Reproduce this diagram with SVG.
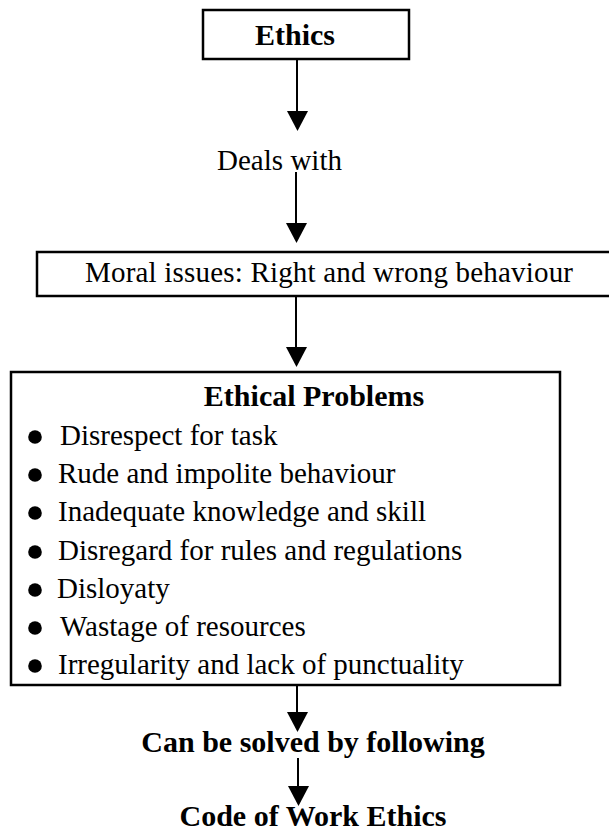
<svg xmlns="http://www.w3.org/2000/svg" width="609" height="833" viewBox="0 0 609 833">
<style>
.box{fill:#fff;stroke:#000;stroke-width:2.5}
.t{font-family:"Liberation Serif","Times New Roman",serif;font-size:29px;fill:#000}
.b{font-family:"Liberation Serif","Times New Roman",serif;font-size:30px;font-weight:bold;fill:#000}
.ln{stroke:#000;stroke-width:2;fill:none}
.hd{fill:#000}
</style>
<rect width="609" height="833" fill="#fff"/>
<g id="connectors">
<line class="ln" x1="297" y1="59" x2="297" y2="113"/>
<polygon class="hd" points="287,111 308,111 297.5,131"/>
<line class="ln" x1="296" y1="172" x2="296" y2="225"/>
<polygon class="hd" points="286,223 307,223 296.5,243"/>
<line class="ln" x1="296" y1="296" x2="296" y2="349"/>
<polygon class="hd" points="286,347 307,347 296.5,367"/>
<line class="ln" x1="297" y1="685" x2="297" y2="714"/>
<polygon class="hd" points="287,712 308,712 297.5,732"/>
<line class="ln" x1="298" y1="758" x2="298" y2="788"/>
<polygon class="hd" points="288,786 309,786 298.5,806"/>
</g>
<g id="ethics">
<rect class="box" x="203" y="10" width="206" height="49"/>
<text class="b" x="295" y="45" text-anchor="middle">Ethics</text>
</g>
<g id="deals-with">
<text class="t" x="217" y="170" textLength="125">Deals with</text>
</g>
<g id="moral-issues">
<rect class="box" x="37" y="252" width="580" height="44"/>
<text class="t" x="85" y="282" textLength="488">Moral issues: Right and wrong behaviour</text>
</g>
<g id="ethical-problems">
<rect class="box" x="11" y="372" width="549" height="313"/>
<text class="b" x="314" y="406" text-anchor="middle">Ethical Problems</text>
<g class="hd">
<circle cx="35" cy="437" r="6.8"/>
<circle cx="35" cy="475" r="6.8"/>
<circle cx="35" cy="513" r="6.8"/>
<circle cx="35" cy="552" r="6.8"/>
<circle cx="35" cy="590" r="6.8"/>
<circle cx="35" cy="628" r="6.8"/>
<circle cx="35" cy="666" r="6.8"/>
</g>
<text class="t" x="60" y="445">Disrespect for task</text>
<text class="t" x="58" y="483">Rude and impolite behaviour</text>
<text class="t" x="58" y="521">Inadequate knowledge and skill</text>
<text class="t" x="58" y="560">Disregard for rules and regulations</text>
<text class="t" x="57" y="598">Disloyaty</text>
<text class="t" x="60" y="636">Wastage of resources</text>
<text class="t" x="58" y="674">Irregularity and lack of punctuality</text>
</g>
<g id="can-be-solved">
<text class="b" x="313" y="752" text-anchor="middle">Can be solved by following</text>
</g>
<g id="code-of-work-ethics">
<text class="b" x="313" y="826" text-anchor="middle">Code of Work Ethics</text>
</g>
</svg>
